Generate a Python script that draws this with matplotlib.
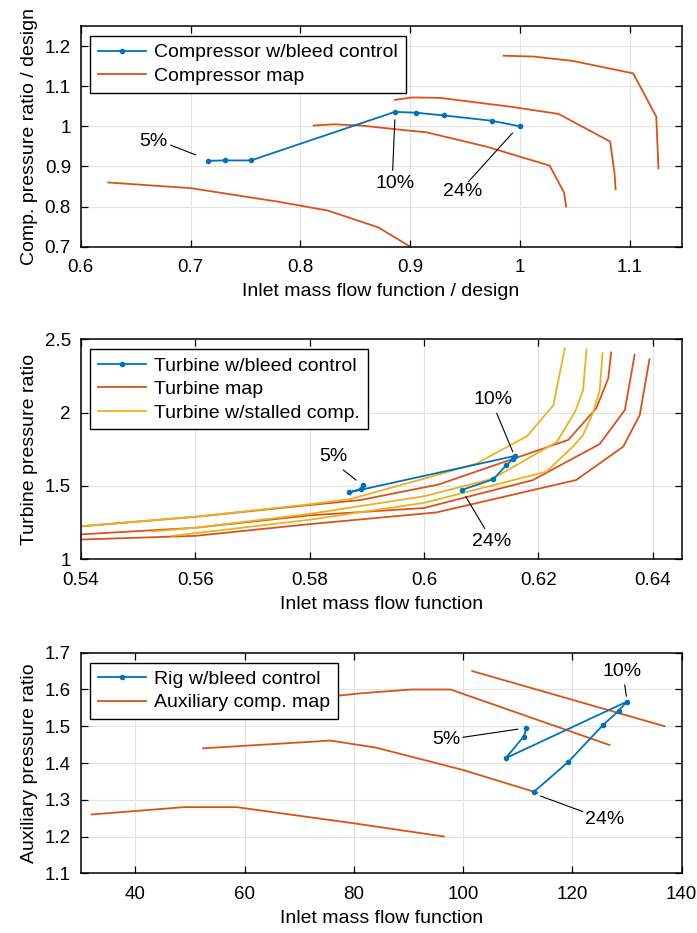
import numpy as np
import matplotlib.pyplot as plt
from matplotlib.ticker import FormatStrFormatter

plt.rcParams['font.family'] = ['Liberation Sans', 'DejaVu Sans']
plt.rcParams['font.size'] = 13

C_BLUE = '#0072BD'
C_RED = '#D95319'
C_YEL = '#EDB120'

# --- compressor (top) ---
comp_bleed_x = [0.716, 0.731, 0.755, 0.886, 0.905, 0.931, 0.974, 1.0]
comp_bleed_y = [0.914, 0.915, 0.915, 1.036, 1.034, 1.027, 1.014, 1.0]

comp_map_x = [
    [0.625, 0.70, 0.78, 0.825, 0.871, 0.90],
    [0.812, 0.83, 0.855, 0.90, 0.915, 0.97, 1.027, 1.040, 1.042],
    [0.886, 0.902, 0.927, 0.991, 1.035, 1.082, 1.086, 1.087],
    [0.985, 1.012, 1.048, 1.103, 1.124, 1.126],
]
comp_map_y = [
    [0.860, 0.846, 0.812, 0.790, 0.748, 0.700],
    [1.002, 1.005, 1.002, 0.989, 0.985, 0.949, 0.902, 0.835, 0.800],
    [1.066, 1.072, 1.071, 1.049, 1.031, 0.962, 0.883, 0.843],
    [1.176, 1.174, 1.163, 1.132, 1.024, 0.895],
]

# --- turbine (middle) ---
turb_bleed_x = [0.5893, 0.5889, 0.5869, 0.6159, 0.6155, 0.6144, 0.6121, 0.6066]
turb_bleed_y = [1.508, 1.478, 1.457, 1.705, 1.682, 1.643, 1.546, 1.473]

turb_map_x = [
    [0.54, 0.56, 0.58, 0.589, 0.6025, 0.6167, 0.6252, 0.6301, 0.6322, 0.6327],
    [0.54, 0.56, 0.58, 0.60, 0.619, 0.6307, 0.6351, 0.6368],
    [0.54, 0.56, 0.58, 0.6022, 0.6266, 0.6348, 0.6377, 0.6394],
]
turb_map_y = [
    [1.225, 1.29, 1.37, 1.405, 1.51, 1.70, 1.814, 2.03, 2.235, 2.41],
    [1.17, 1.215, 1.30, 1.35, 1.54, 1.786, 2.018, 2.394],
    [1.135, 1.16, 1.24, 1.32, 1.541, 1.768, 1.984, 2.364],
]
turb_stall_x = [
    [0.54, 0.56, 0.58, 0.587, 0.60, 0.609, 0.618, 0.6226, 0.6246],
    [0.5525, 0.56, 0.58, 0.60, 0.612, 0.6232, 0.6264, 0.6278, 0.6284],
    [0.556, 0.58, 0.60, 0.6214, 0.626, 0.6278, 0.6296, 0.6307, 0.6312],
]
turb_stall_y = [
    [1.225, 1.29, 1.375, 1.41, 1.55, 1.65, 1.84, 2.05, 2.44],
    [1.19, 1.215, 1.31, 1.43, 1.55, 1.80, 2.007, 2.155, 2.43],
    [1.16, 1.27, 1.385, 1.598, 1.768, 1.848, 2.007, 2.155, 2.405],
]

# --- auxiliary rig (bottom) ---
rig_bleed_x = [111.6, 111.1, 107.8, 130.0, 128.5, 125.6, 119.2, 113.0]
rig_bleed_y = [1.494, 1.472, 1.413, 1.567, 1.542, 1.503, 1.402, 1.322]

aux_map_x = [
    [32, 49, 58.5, 80, 96.5],
    [52.4, 75.7, 84, 100, 113.6],
    [75, 81.6, 90.5, 97.7, 126.8],
    [101.7, 136.9],
]
aux_map_y = [
    [1.26, 1.28, 1.28, 1.236, 1.20],
    [1.44, 1.461, 1.442, 1.381, 1.319],
    [1.58, 1.59, 1.60, 1.60, 1.449],
    [1.65, 1.50],
]

fig = plt.figure(figsize=(6.97, 9.33), dpi=100)
ax1 = fig.add_axes([0.1158, 0.7356, 0.862, 0.2365])
ax2 = fig.add_axes([0.1158, 0.4005, 0.862, 0.2358])
ax3 = fig.add_axes([0.1158, 0.0640, 0.862, 0.2364])

FS = 14


def style(ax):
    ax.grid(True, color='#e3e3e3', linewidth=0.8)
    ax.set_axisbelow(True)
    ax.tick_params(direction='in', top=True, right=True, length=5, width=0.9,
                   labelsize=13.5)
    ax.tick_params(axis='x', pad=9)
    ax.tick_params(axis='y', pad=7)
    for s in ax.spines.values():
        s.set_linewidth(1.1)
    ax.xaxis.set_major_formatter(FormatStrFormatter('%g'))
    ax.yaxis.set_major_formatter(FormatStrFormatter('%g'))


def legend(ax):
    lg = ax.legend(loc='upper left', bbox_to_anchor=(0.0155, 0.955),
                   borderaxespad=0, fancybox=False, framealpha=1,
                   edgecolor='black', fontsize=FS, handlelength=2.5,
                   handletextpad=0.4, labelspacing=0.3, borderpad=0.4)
    lg.get_frame().set_linewidth(1.0)


def note(ax, txt, tx, ty, x0, y0, x1, y1):
    ax.text(tx, ty, txt, ha='center', va='center', fontsize=FS)
    ax.plot([x0, x1], [y0, y1], color='black', linewidth=0.8)


# top
style(ax1)
ax1.plot(comp_bleed_x, comp_bleed_y, '.-', color=C_BLUE, lw=1.3, ms=6,
         label='Compressor w/bleed control', zorder=3)
for i, (xs, ys) in enumerate(zip(comp_map_x, comp_map_y)):
    ax1.plot(xs, ys, '-', color=C_RED, lw=1.3,
             label='Compressor map' if i == 0 else None)
ax1.set_xlim(0.6, 1.147)
ax1.set_ylim(0.7, 1.25)
ax1.set_xticks(np.arange(0.6, 1.15, 0.1))
ax1.set_yticks(np.arange(0.7, 1.25, 0.1))
ax1.set_xlabel('Inlet mass flow function / design', fontsize=FS, labelpad=5)
ax1.set_ylabel('Comp. pressure ratio / design', fontsize=FS, labelpad=5)
legend(ax1)
note(ax1, '5%', 0.666, 0.962, 0.682, 0.953, 0.7045, 0.929)
note(ax1, '10%', 0.886, 0.858, 0.884, 0.891, 0.886, 1.016)
note(ax1, '24%', 0.948, 0.837, 0.953, 0.862, 0.993, 0.983)

# middle
style(ax2)
ax2.plot(turb_bleed_x, turb_bleed_y, '.-', color=C_BLUE, lw=1.3, ms=6,
         label='Turbine w/bleed control', zorder=3)
for i, (xs, ys) in enumerate(zip(turb_map_x, turb_map_y)):
    ax2.plot(xs, ys, '-', color=C_RED, lw=1.3,
             label='Turbine map' if i == 0 else None)
for i, (xs, ys) in enumerate(zip(turb_stall_x, turb_stall_y)):
    ax2.plot(xs, ys, '-', color=C_YEL, lw=1.3,
             label='Turbine w/stalled comp.' if i == 0 else None)
ax2.set_xlim(0.54, 0.645)
ax2.set_ylim(1, 2.5)
ax2.set_xticks(np.arange(0.54, 0.645, 0.02))
ax2.set_yticks([1, 1.5, 2, 2.5])
ax2.set_xlabel('Inlet mass flow function', fontsize=FS, labelpad=5)
ax2.set_ylabel('Turbine pressure ratio', fontsize=FS, labelpad=5)
legend(ax2)
note(ax2, '5%', 0.5841, 1.70, 0.5859, 1.609, 0.5881, 1.541)
note(ax2, '10%', 0.6121, 2.087, 0.6127, 1.996, 0.6155, 1.734)
note(ax2, '24%', 0.6118, 1.12, 0.6106, 1.211, 0.6073, 1.427)

# bottom
style(ax3)
ax3.plot(rig_bleed_x, rig_bleed_y, '.-', color=C_BLUE, lw=1.3, ms=6,
         label='Rig w/bleed control', zorder=3)
for i, (xs, ys) in enumerate(zip(aux_map_x, aux_map_y)):
    ax3.plot(xs, ys, '-', color=C_RED, lw=1.3,
             label='Auxiliary comp. map' if i == 0 else None)
ax3.set_xlim(30, 140)
ax3.set_ylim(1.1, 1.7)
ax3.set_xticks(np.arange(40, 141, 20))
ax3.set_yticks(np.arange(1.1, 1.71, 0.1))
ax3.set_xlabel('Inlet mass flow function', fontsize=FS, labelpad=5)
ax3.set_ylabel('Auxiliary pressure ratio', fontsize=FS, labelpad=5)
legend(ax3)
note(ax3, '10%', 129.2, 1.648, 129.6, 1.612, 129.9, 1.582)
note(ax3, '5%', 96.9, 1.464, 100.0, 1.47, 110.0, 1.492)
note(ax3, '24%', 125.9, 1.247, 121.9, 1.268, 114.2, 1.310)

fig.savefig('out.png', dpi=100)
